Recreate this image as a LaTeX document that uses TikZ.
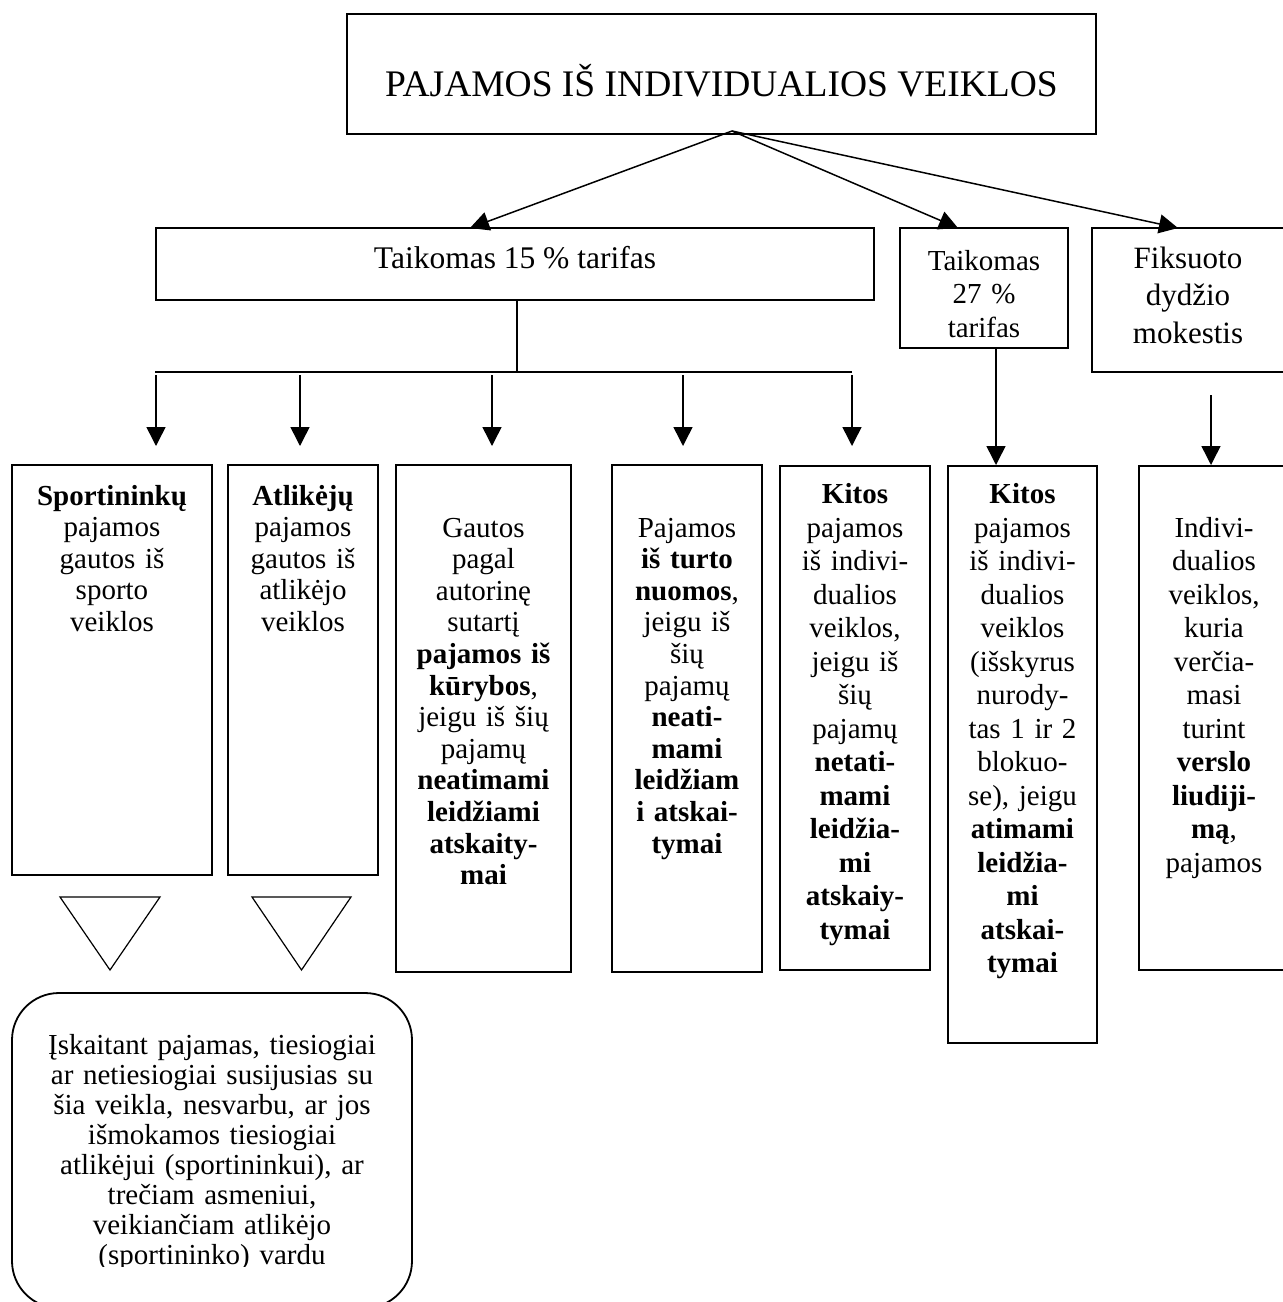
\documentclass[tikz,border=0pt]{standalone}
\usepackage{fontspec}
\setmainfont{Liberation Serif}
\usetikzlibrary{arrows.meta}
\newcommand\fsA{\fontsize{29}{31.6}\selectfont}
\newcommand\fsB{\fontsize{29}{33.5}\selectfont}
\newcommand\fsC{\fontsize{31}{37.5}\selectfont}
\newcommand\fsD{\fontsize{29}{30}\selectfont}
\begin{document}
\begin{tikzpicture}[x=1pt,y=-1pt,
  boxst/.style={draw=black, line width=1.8pt, inner sep=0pt, outer sep=0pt},
  txt/.style={anchor=base, inner sep=0pt, align=center},
  arr/.style={line width=1.5pt, -{Triangle[length=19pt,width=19pt]}},
  ln/.style={line width=1.5pt}]
\useasboundingbox (0,0) rectangle (1283,1302);
\fill[white] (0,0) rectangle (1283,1302);

% boxes
\node[boxst, minimum width=749pt, minimum height=120pt] (top) at (721.5,74) {};
\node[boxst, minimum width=718pt, minimum height=72pt] (r15) at (515,264) {};
\node[boxst, minimum width=168pt, minimum height=120pt] (r27) at (984,288) {};
\node[boxst, minimum width=194pt, minimum height=144pt] (rfix) at (1189,300) {};
\node[boxst, minimum width=200pt, minimum height=410pt] (b1) at (112,670) {};
\node[boxst, minimum width=150pt, minimum height=410pt] (b2) at (303,670) {};
\node[boxst, minimum width=175pt, minimum height=507pt] (b3) at (483.5,718.5) {};
\node[boxst, minimum width=150pt, minimum height=507pt] (b4) at (687,718.5) {};
\node[boxst, minimum width=150pt, minimum height=504pt] (b5) at (855,718) {};
\node[boxst, minimum width=149pt, minimum height=577pt] (b6) at (1022.5,754.5) {};
\node[boxst, minimum width=150pt, minimum height=504pt] (b7) at (1214,718) {};
\node[boxst, rounded corners=47pt, minimum width=400pt, minimum height=315pt] (rb) at (212,1150.5) {};

% texts
\node[txt, font=\fontsize{37.5}{40}\selectfont] (ttop) at (721.5,96.5) {PAJAMOS IŠ INDIVIDUALIOS VEIKLOS};
\node[txt, font=\fontsize{31.5}{36}\selectfont] (t15) at (515,268) {Taikomas 15 \% tarifas};
\node[txt, text width=160pt, font=\fsB] (t27) at (984,270) {Taikomas\\27 \%\\tarifas};
\node[txt, text width=190pt, font=\fsC] (tfix) at (1188,268) {Fiksuoto\\dydžio\\mokestis};

\node[txt, text width=196pt, font=\fsA] (t1) at (112,505) {\textbf{Sportininkų}\\pajamos\\gautos iš\\sporto\\veiklos};
\node[txt, text width=146pt, font=\fsA] (t2) at (303,505) {\textbf{Atlikėjų}\\pajamos\\gautos iš\\atlikėjo\\veiklos};
\node[txt, text width=171pt, font=\fsA] (t3) at (483.5,537) {Gautos\\pagal\\autorinę\\sutartį\\\textbf{pajamos iš}\\\textbf{kūrybos},\\jeigu iš šių\\pajamų\\\textbf{neatimami}\\\textbf{leidžiami}\\\textbf{atskaity-}\\\textbf{mai}};
\node[txt, text width=146pt, font=\fsA] (t4) at (687,537) {Pajamos\\\textbf{iš turto}\\\textbf{nuomos},\\jeigu iš\\šių\\pajamų\\\textbf{neati-}\\\textbf{mami}\\\textbf{leidžiam}\\\textbf{i atskai-}\\\textbf{tymai}};
\node[txt, text width=146pt, font=\fsB] (t5) at (855,503.5) {\textbf{Kitos}\\pajamos\\iš indivi-\\dualios\\veiklos,\\jeigu iš\\šių\\pajamų\\\textbf{netati-}\\\textbf{mami}\\\textbf{leidžia-}\\\textbf{mi}\\\textbf{atskaiy-}\\\textbf{tymai}};
\node[txt, text width=145pt, font=\fsB] (t6) at (1022.5,503.5) {\textbf{Kitos}\\pajamos\\iš indivi-\\dualios\\veiklos\\(išskyrus\\nurody-\\tas 1 ir 2\\blokuo-\\se), jeigu\\\textbf{atimami}\\\textbf{leidžia-}\\\textbf{mi}\\\textbf{atskai-}\\\textbf{tymai}};
\node[txt, text width=146pt, font=\fsB] (t7) at (1214,537) {Indivi-\\dualios\\veiklos,\\kuria\\verčia-\\masi\\turint\\\textbf{verslo}\\\textbf{liudiji-}\\\textbf{mą},\\pajamos};

\begin{scope}
\clip (14,995) rectangle (410,1266);
\node[txt, text width=396pt, font=\fsD] (trb) at (212,1054) {Įskaitant pajamas, tiesiogiai\\ar netiesiogiai susijusias su\\šia veikla, nesvarbu, ar jos\\išmokamos tiesiogiai\\atlikėjui (sportininkui), ar\\trečiam asmeniui,\\veikiančiam atlikėjo\\(sportininko) vardu};
\end{scope}

% triangles
\draw[line width=1.2pt, line join=miter] (60,897) -- (160,897) -- (110,970) -- cycle;
\draw[line width=1.2pt, line join=miter] (252,897) -- (351,897) -- (301.5,970) -- cycle;

% connectors
\coordinate (apex) at (732,131);
\coordinate (e15) at (470,228);
\coordinate (e27) at (958,228);
\coordinate (efix) at (1178,228);
\draw[arr] (apex) -- (e15);
\draw[arr] (apex) -- (e27);
\draw[arr] (apex) -- (efix);

\coordinate (s15) at (517,300);
\coordinate (bus) at (517,372);
\coordinate (busL) at (155,372);
\coordinate (busR) at (852,372);
\draw[ln] (s15) -- (bus);
\draw[ln] (busL) -- (busR);
\foreach \xx [count=\i] in {156,300,492,683,852}{
  \coordinate (ds\i) at (\xx,375);
  \coordinate (de\i) at (\xx,446);
  \draw[arr] (ds\i) -- (de\i);
}
\coordinate (s27) at (996,348);
\coordinate (e27b) at (996,465);
\draw[arr] (s27) -- (e27b);
\coordinate (sfix) at (1211,395);
\coordinate (efixb) at (1211,465);
\draw[arr] (sfix) -- (efixb);
\end{tikzpicture}
\end{document}
